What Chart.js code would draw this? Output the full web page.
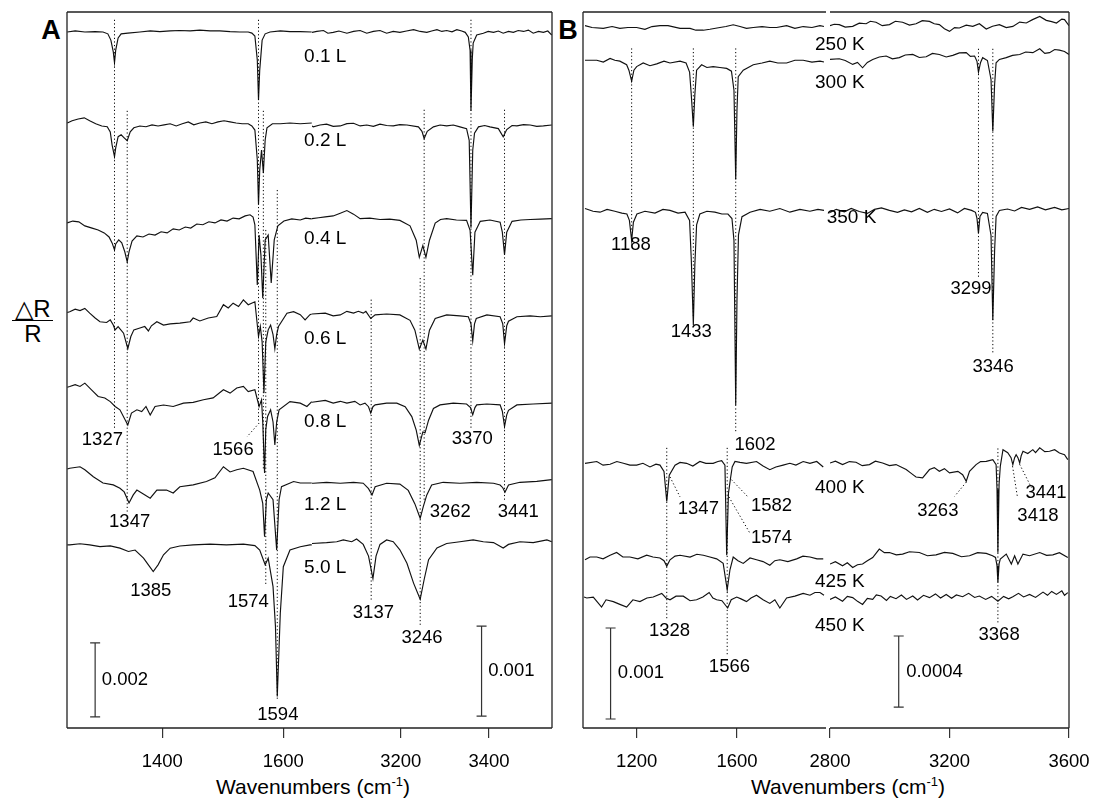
<!DOCTYPE html>
<html lang="en">
<head>
<meta charset="UTF-8">
<title>Reflection-absorption spectra</title>
<script src="https://cdn.jsdelivr.net/npm/chart.js@4/dist/chart.umd.min.js"></script>
<style>
  body { margin: 0; width: 1097px; height: 799px; position: relative; overflow: hidden; background: #fff;
         font-family: "Liberation Sans", Arial, sans-serif; color: #000; }
  canvas { position: absolute; }
  .t { position: absolute; white-space: nowrap; transform: translate(-50%, -50%); }
  .panel { font-weight: bold; font-size: 27px; }
  .xtitle { font-size: 21px; line-height: 24px; }
  .xtitle sup { font-size: 13px; line-height: 0; }
  .ylab { font-size: 24px; }
  .frac { position: absolute; left: 12px; top: 320px; width: 41px; border-top: 1.5px solid #000; }
</style>
</head>
<body>
<div class="t panel" style="left:51px;top:30px">A</div>
<div class="t panel" style="left:568px;top:30px">B</div>
<div class="t ylab" style="left:33px;top:309px">△R</div>
<div class="frac"></div>
<div class="t ylab" style="left:33px;top:334px">R</div>
<div class="t xtitle" style="left:313px;top:787px">Wavenumbers (cm<sup>-1</sup>)</div>
<div class="t xtitle" style="left:848px;top:787px">Wavenumbers (cm<sup>-1</sup>)</div>

<script>
// y values are ΔR/R in units of 1e-4; each spectrum is [wavenumber, change from its baseline]

// ---- panel A: exposure series ----
const exposures = ['0.1 L', '0.2 L', '0.4 L', '0.6 L', '0.8 L', '1.2 L', '5.0 L'];
const offsetsALow = [188.1, 163.0, 134.6, 110.3, 88.7, 65.7, 49.5];
const offsetsAHigh = [77.3, 66.9, 56.4, 45.9, 36.0, 27.2, 20.6];
const ticksALow = [1400, 1600];
const ticksAHigh = [3200, 3400];

const spectraALow = [
  [[1243,0],[1256,0.3],[1272,0],[1289,0.1],[1302,0],[1310,-0.5],[1315,-2.2],[1319,-5.4],[1321,-8.3],[1323,-4.9],[1327,-1.6],[1332,-0.5],[1343,-0.3],[1363,0],[1380,0.3],[1396,0.1],[1413,0.3],[1429,0.4],[1446,0.3],[1462,0.5],[1479,0.3],[1495,0.3],[1512,0.1],[1528,0],[1542,0],[1548,-0.3],[1553,-1.1],[1557,-7.6],[1559,-18.4],[1561,-10.3],[1565,-2.2],[1570,-0.5],[1578,0],[1595,0.3],[1611,0.1],[1628,0.1],[1647,0]],
  [[1243,0.5],[1251,1.1],[1261,1.6],[1271,1.9],[1280,1.1],[1290,0.3],[1300,-0.3],[1309,-0.5],[1314,-1.9],[1317,-5.4],[1321,-8.6],[1323,-6.2],[1327,-3.2],[1332,-2.7],[1337,-3.5],[1342,-4.3],[1347,-1.9],[1353,-0.8],[1363,-0.3],[1373,-0.5],[1383,0],[1393,-0.3],[1403,0],[1413,0.3],[1423,-0.3],[1433,0.3],[1443,0.8],[1452,0],[1462,0.5],[1472,0.8],[1482,0.3],[1492,0.8],[1502,1.1],[1512,0.8],[1522,0.5],[1532,0.3],[1542,0.3],[1548,-0.3],[1553,-1.4],[1557,-9.5],[1559,-21.6],[1561,-12.2],[1564,-6.8],[1567,-13.0],[1570,-4.1],[1573,-0.8],[1582,0.3],[1595,0.3],[1611,0.5],[1628,0.3],[1647,0.5]],
  [[1243,1.9],[1252,2.4],[1262,2.2],[1272,1.1],[1284,0.5],[1294,0],[1304,-0.8],[1312,-1.9],[1317,-3.5],[1321,-5.4],[1323,-3.8],[1328,-2.7],[1333,-3.5],[1338,-5.9],[1342,-8.6],[1345,-5.9],[1350,-3.0],[1358,-1.6],[1368,-1.9],[1378,-1.1],[1388,-1.4],[1398,-0.5],[1408,-0.8],[1418,0.3],[1428,0],[1438,0.8],[1447,0.5],[1457,1.6],[1467,1.4],[1477,2.2],[1487,1.9],[1497,2.7],[1507,2.4],[1517,3.2],[1527,3.0],[1537,3.8],[1545,4.1],[1550,3.5],[1553,1.4],[1557,-14.9],[1560,-1.4],[1563,-6.8],[1566,-18.4],[1570,-2.7],[1575,-1.4],[1580,-14.3],[1585,-2.7],[1591,1.1],[1601,2.4],[1614,3.0],[1628,2.7],[1637,3.2],[1647,3.0]],
  [[1243,2.0],[1247,2.2],[1256,2.9],[1264,2.5],[1272,3.1],[1280,1.8],[1289,0.5],[1297,-0.5],[1308,-0.7],[1314,0],[1319,-1.4],[1322,-2.7],[1327,-1.8],[1336,-3.6],[1343,-7.8],[1348,-4.5],[1353,-2.7],[1363,-2.2],[1371,-1.8],[1377,-3.0],[1382,-1.6],[1391,-0.5],[1402,-1.4],[1413,-1.1],[1429,-0.9],[1446,-0.5],[1451,0.5],[1462,-0.3],[1476,0.5],[1490,0.9],[1501,4.1],[1509,3.2],[1517,4.5],[1526,3.6],[1534,5.4],[1542,4.1],[1553,4.9],[1559,-4.5],[1562,-1.8],[1565,-6.0],[1568,-19.8],[1571,-6.0],[1575,-2.7],[1579,-1.4],[1583,-4.0],[1586,-7.8],[1589,-4.0],[1592,-1.8],[1606,1.8],[1617,2.2],[1628,1.4],[1636,0],[1644,1.4],[1647,1.6]],
  [[1243,3.4],[1247,3.6],[1256,4.1],[1264,3.6],[1272,4.5],[1283,2.7],[1294,0.9],[1305,0.5],[1314,-0.5],[1322,-1.8],[1330,-2.7],[1343,-6.8],[1349,-3.6],[1358,-2.7],[1366,-3.2],[1373,-1.8],[1380,-4.1],[1388,-1.8],[1402,-1.4],[1418,-1.8],[1435,-0.9],[1451,-0.7],[1468,0],[1484,0.5],[1501,2.7],[1512,1.8],[1523,3.2],[1534,3.6],[1542,2.2],[1553,2.7],[1560,-1.8],[1564,0],[1566,-6.0],[1569,-19.8],[1571,-8.0],[1574,-4.5],[1579,-2.7],[1583,-6.0],[1586,-12.2],[1589,-6.0],[1593,-2.7],[1611,-0.5],[1628,-0.9],[1639,-1.8],[1647,-0.5]],
  [[1243,4.3],[1247,4.5],[1264,4.9],[1272,4.1],[1286,2.2],[1302,0.5],[1319,0],[1330,-0.9],[1337,-1.9],[1345,-4.9],[1352,-2.7],[1358,-1.4],[1368,-2.4],[1380,-3.6],[1391,-1.4],[1407,-1.4],[1418,-2.2],[1429,-0.5],[1451,0],[1473,0.9],[1487,1.9],[1501,4.9],[1512,3.5],[1523,4.1],[1534,4.5],[1550,3.6],[1561,-1.4],[1566,-5.0],[1569,-14.0],[1572,-4.0],[1575,-2.2],[1583,-4.0],[1589,-17.6],[1593,-4.0],[1597,-0.5],[1617,0.9],[1628,0.5],[1647,0.5]],
  [[1243,0],[1247,0],[1264,0.3],[1280,0],[1297,-0.5],[1314,-0.3],[1330,-0.9],[1344,-1.8],[1355,-1.4],[1369,-3.6],[1377,-5.4],[1385,-7.2],[1393,-5.4],[1402,-2.7],[1413,-0.9],[1429,-0.3],[1451,0],[1479,0.2],[1506,0],[1534,0.2],[1553,-0.2],[1561,-1.4],[1570,-5.4],[1575,-3.6],[1583,-11.3],[1587,-22.0],[1590,-41.0],[1595,-18.5],[1600,-5.9],[1611,-1.4],[1628,-0.5],[1644,0],[1647,0]]
];

const spectraAHigh = [
  [[2999,0],[3010,0.1],[3025,0.2],[3035,-0.1],[3047,0],[3060,0.15],[3078,-0.1],[3093,0.1],[3108,0.2],[3123,-0.1],[3138,0.1],[3153,0.2],[3168,-0.1],[3183,0.1],[3198,0],[3213,0.15],[3229,0.3],[3244,0.1],[3259,0],[3270,0.15],[3282,0.3],[3293,0.1],[3304,0.2],[3316,0.05],[3327,0.3],[3338,0.15],[3346,0],[3353,-0.5],[3357,-2.0],[3359,-8.7],[3362,-3.0],[3364,-1.2],[3372,-0.3],[3387,-0.1],[3398,0.1],[3410,0],[3421,0.15],[3432,-0.1],[3444,0.1],[3455,0],[3466,0.2],[3478,0.1],[3489,0.25],[3500,-0.1],[3512,0.1],[3523,0],[3533,0.15],[3542,-0.3]],
  [[2999,0],[3002,-0.1],[3017,0.1],[3032,0.2],[3047,-0.05],[3063,0],[3078,0.25],[3093,0.3],[3108,0],[3123,0.1],[3138,-0.05],[3153,0.2],[3168,0.05],[3183,0],[3198,0.15],[3214,0.1],[3240,-0.1],[3248,-0.6],[3253,-1.4],[3260,-0.6],[3274,-0.1],[3289,0.1],[3304,0],[3319,0.1],[3334,-0.1],[3349,-0.3],[3355,-1.6],[3359,-11.3],[3363,-2.7],[3367,-0.8],[3376,-0.1],[3390,0.05],[3402,-0.1],[3421,-0.3],[3432,-1.2],[3440,-0.4],[3452,0.05],[3463,0],[3478,0.15],[3493,0.1],[3508,-0.05],[3523,0],[3542,0.1]],
  [[2999,0.2],[3014,0.3],[3029,0.4],[3047,0.5],[3063,0.8],[3078,1.1],[3093,0.7],[3108,0.2],[3130,0.25],[3153,0.1],[3175,0.15],[3198,0],[3221,-0.6],[3235,-2.2],[3242,-4.1],[3250,-2.8],[3257,-4.1],[3265,-2.2],[3278,-0.3],[3290,0.1],[3304,0.2],[3326,0.05],[3349,0],[3357,-1.1],[3363,-6.1],[3368,-1.3],[3380,-0.1],[3402,0.05],[3425,-0.2],[3430,-1.3],[3435,-3.8],[3440,-1.3],[3452,-0.1],[3472,0.05],[3493,0.1],[3516,0.15],[3542,0.2]],
  [[2999,0.1],[3029,0.2],[3047,-0.1],[3063,0],[3078,0.4],[3093,0.2],[3104,0.4],[3115,0.2],[3121,0.4],[3132,-0.4],[3142,0],[3168,0.1],[3198,0],[3221,-0.6],[3232,-1.7],[3242,-3.8],[3250,-2.8],[3257,-3.8],[3265,-1.7],[3278,-0.4],[3304,0],[3334,-0.1],[3353,-0.2],[3359,-1.0],[3363,-2.9],[3367,-1.0],[3371,-0.4],[3395,0],[3425,-0.2],[3431,-1.0],[3435,-3.2],[3440,-1.2],[3444,-0.7],[3463,-0.2],[3493,-0.1],[3516,-0.2],[3542,-0.1]],
  [[2999,0.2],[3029,0.4],[3047,0.1],[3063,0.3],[3078,0.1],[3096,0.3],[3108,-0.1],[3119,0.1],[3127,-0.3],[3132,-1.0],[3137,-0.3],[3142,-0.1],[3168,0.1],[3191,0.1],[3210,-0.3],[3225,-1.4],[3235,-2.9],[3242,-4.6],[3250,-3.1],[3255,-3.2],[3263,-1.8],[3274,-0.5],[3289,-0.1],[3319,0.1],[3349,0],[3358,-0.4],[3363,-1.2],[3368,-0.4],[3372,-0.1],[3395,0],[3425,-0.1],[3430,-0.8],[3435,-2.5],[3440,-1.2],[3444,-0.7],[3463,-0.1],[3500,0],[3542,0.1]],
  [[2999,0],[3002,0],[3032,0.1],[3063,0],[3093,0.1],[3115,0],[3127,-0.6],[3135,-1.3],[3142,-0.4],[3168,0],[3198,-0.1],[3217,-0.8],[3232,-2.3],[3244,-3.9],[3251,-2.6],[3259,-1.3],[3270,-0.2],[3296,0.1],[3334,0],[3372,0.1],[3410,0],[3425,-0.2],[3431,-0.5],[3436,-1.0],[3441,-0.5],[3444,-0.2],[3470,0.1],[3508,0.2],[3542,0.4]],
  [[2999,-0.1],[3032,0],[3055,0.1],[3070,0.3],[3089,0.1],[3100,0.4],[3115,-0.2],[3127,-1.5],[3137,-4.0],[3144,-1.5],[3153,-0.2],[3168,0.3],[3183,0.1],[3198,-0.8],[3214,-2.3],[3229,-4.5],[3244,-6.3],[3253,-4.1],[3263,-1.9],[3282,-0.6],[3304,-0.1],[3334,0.1],[3364,0.3],[3387,0.1],[3410,0],[3432,-0.6],[3444,-0.2],[3470,0.1],[3500,0],[3531,0.3],[3542,0.1]]
];

// ---- panel B: annealing temperatures ----
const temps = ['250 K', '300 K', '350 K', '400 K', '425 K', '450 K'];
const offsetsBLow = [77.1, 73.1, 57.0, 29.1, 18.8, 14.4];
const offsetsBHigh = [39.6, 37.7, 29.2, 15.0, 9.7, 7.3];
const ticksBLow = [1200, 1600];
const ticksBHigh = [2800, 3200, 3600];

const spectraBLow = [
  [[994,0.2],[1022,0],[1067,-0.1],[1102,0.1],[1133,-0.1],[1165,0],[1200,0],[1233,-0.2],[1261,0.1],[1293,0.2],[1325,0.2],[1373,-0.1],[1413,-0.1],[1436,-0.3],[1466,-0.3],[1492,-0.2],[1532,0],[1556,0.1],[1585,0.3],[1612,0.1],[1638,-0.1],[1665,0],[1700,0.1],[1731,0],[1758,0],[1798,0.2],[1831,-0.1],[1864,0.1],[1899,0],[1931,0.2],[1947,0.1]],
  [[994,0.4],[1041,0.4],[1067,0.2],[1094,0.6],[1113,0.4],[1133,0.3],[1160,-0.1],[1169,-0.7],[1180,-1.9],[1189,-0.7],[1200,-0.3],[1226,0.1],[1253,-0.2],[1280,0],[1309,0.3],[1333,0.1],[1373,0.3],[1397,0.1],[1411,-0.9],[1417,-3.1],[1426,-6.9],[1432,-3.4],[1439,-0.7],[1459,-0.1],[1480,-0.4],[1505,-0.3],[1532,-0.4],[1559,-0.5],[1578,-0.8],[1588,-2.9],[1595,-12.7],[1600,-5.1],[1605,-1.4],[1625,-0.7],[1665,-0.1],[1700,0.1],[1731,0.3],[1763,0.1],[1798,0.1],[1831,0.4],[1864,0.4],[1899,0.2],[1931,0.3],[1947,0.2]],
  [[994,0.2],[1026,-0.1],[1054,-0.2],[1082,0.1],[1113,-0.1],[1141,-0.3],[1161,-0.4],[1171,-1.1],[1180,-3.3],[1187,-1.3],[1201,-0.4],[1233,-0.1],[1273,-0.3],[1305,0.1],[1333,0],[1365,-0.3],[1393,-0.2],[1411,-1.1],[1418,-5.5],[1426,-12.6],[1432,-6.0],[1439,-1.6],[1452,-0.4],[1480,-0.1],[1512,-0.2],[1540,-0.4],[1564,-0.4],[1580,-0.9],[1588,-3.3],[1595,-21.4],[1600,-9.9],[1606,-2.7],[1620,-0.7],[1652,-0.2],[1692,0.1],[1731,-0.1],[1771,0.2],[1811,-0.2],[1851,0.1],[1891,-0.1],[1923,0.1],[1947,0]],
  [[994,0.1],[1041,0.3],[1066,-0.1],[1094,0],[1121,0.3],[1147,0.1],[1173,-0.1],[1200,-0.1],[1225,0.1],[1253,-0.3],[1277,0],[1293,-0.1],[1309,-0.8],[1320,-4.1],[1330,-1.2],[1353,-0.1],[1373,0.2],[1399,0.1],[1424,-0.2],[1452,0.3],[1476,0.1],[1505,0.1],[1524,0.3],[1539,0.4],[1552,-0.1],[1559,-10.0],[1566,-3.2],[1574,-1.6],[1581,-0.3],[1592,0.3],[1612,0.2],[1638,0.1],[1678,0.3],[1704,-0.2],[1731,-0.6],[1755,-0.3],[1784,-0.1],[1811,0.1],[1835,-0.1],[1864,0.3],[1891,0.1],[1918,0.3],[1944,-0.3]],
  [[994,-0.2],[1014,0.1],[1041,0.1],[1066,-0.1],[1094,0.3],[1120,0.6],[1145,0.1],[1173,0.1],[1205,-0.1],[1240,0.3],[1265,0.1],[1293,0],[1309,-0.3],[1320,-0.9],[1333,-0.2],[1353,0.2],[1373,0.3],[1413,0.1],[1440,0.4],[1466,0.3],[1492,0.1],[1519,-0.1],[1545,-0.6],[1561,-3.5],[1572,-1.3],[1585,0.1],[1604,-0.3],[1625,-0.6],[1652,0],[1678,-0.2],[1704,-0.4],[1731,-0.8],[1751,-0.3],[1771,-0.2],[1803,-0.4],[1838,-0.1],[1863,0.2],[1891,0.1],[1919,-0.1],[1944,-0.1]],
  [[990,0.1],[1001,0],[1027,0.1],[1042,-0.4],[1060,-1.0],[1078,-0.2],[1107,-0.4],[1133,-0.7],[1160,-1.0],[1185,-0.2],[1213,-0.4],[1241,0],[1266,0.1],[1300,0.5],[1317,0],[1333,-0.2],[1357,0.2],[1386,0.2],[1413,-0.3],[1439,-0.2],[1464,0.1],[1489,0.6],[1504,0],[1519,-0.2],[1540,-0.3],[1563,-1.1],[1577,-0.2],[1599,0.1],[1616,-0.1],[1638,-0.4],[1656,0],[1678,0.3],[1704,-0.2],[1731,-0.6],[1751,-0.2],[1771,-1.1],[1798,0],[1831,0.2],[1864,0.5],[1891,0.3],[1911,0.6],[1931,0.6],[1947,0.3]]
];

const spectraBHigh = [
  [[2800,0],[2814,0.08],[2831,0.06],[2851,-0.08],[2876,-0.04],[2898,0.14],[2921,0.11],[2935,0.25],[2954,0.19],[2975,0],[2999,0.06],[3019,0.25],[3043,0.19],[3066,0.03],[3088,0.11],[3109,0.28],[3133,0.24],[3149,0.11],[3166,0.06],[3183,-0.17],[3200,-0.32],[3217,-0.11],[3233,-0.13],[3256,0.03],[3278,-0.04],[3300,0.11],[3323,-0.19],[3344,-0.03],[3367,0.06],[3390,-0.11],[3412,-0.04],[3435,0.2],[3457,0.15],[3478,0.34],[3502,0.52],[3524,0.3],[3542,0.23],[3558,0.15],[3576,0.37],[3585,0.34],[3600,0]],
  [[2800,0],[2831,0.04],[2851,-0.06],[2876,-0.28],[2892,-0.17],[2909,-0.47],[2925,-0.17],[2943,0],[2965,0.14],[2988,0.19],[3009,0.03],[3032,0.1],[3052,0.25],[3077,0.28],[3099,0.11],[3122,0.15],[3143,0.34],[3166,0.28],[3189,0.14],[3211,0.23],[3233,0.37],[3256,0.38],[3270,0.17],[3284,0.19],[3292,-0.11],[3297,-0.72],[3304,-0.17],[3311,0.1],[3327,-0.06],[3339,-1.13],[3345,-4.04],[3351,-1.41],[3356,-0.19],[3367,0],[3390,0.1],[3411,0.23],[3435,0.28],[3455,0.42],[3479,0.38],[3502,0.6],[3519,0.34],[3535,0.38],[3552,0.56],[3568,0.52],[3585,0.45],[3600,0.28]],
  [[2800,-0.11],[2821,0.06],[2848,-0.08],[2871,0.11],[2898,-0.06],[2925,-0.17],[2949,0.06],[2972,0.14],[2999,0],[3026,-0.11],[3049,0.03],[3073,-0.08],[3099,0.11],[3126,-0.11],[3149,0.06],[3173,-0.06],[3200,0.08],[3227,-0.14],[3250,0.11],[3274,0],[3287,-0.11],[3292,-0.45],[3297,-1.29],[3302,-0.34],[3311,-0.11],[3327,-0.17],[3339,-1.41],[3345,-6.19],[3351,-2.25],[3356,-0.34],[3367,0],[3394,0.08],[3418,-0.03],[3441,0.17],[3468,0.06],[3495,0.2],[3521,0.03],[3552,0.17],[3576,0.03],[3600,0.11]],
  [[2800,-0.02],[2818,0.08],[2842,-0.11],[2865,0.06],[2887,0.02],[2908,-0.17],[2932,-0.11],[2952,0.08],[2976,-0.02],[2999,-0.17],[3021,-0.11],[3055,-0.39],[3073,-0.62],[3088,-0.81],[3110,-0.86],[3133,-0.39],[3149,-0.28],[3166,-0.49],[3183,-0.34],[3200,-0.58],[3228,-0.49],[3244,-0.68],[3256,-1.05],[3267,-0.49],[3289,-0.11],[3304,0.06],[3323,0.07],[3345,0.17],[3356,-0.11],[3359,-1.5],[3362,-5.08],[3366,-1.2],[3370,-0.21],[3379,0.73],[3395,0.56],[3406,0.28],[3412,-0.11],[3418,0.28],[3423,0.45],[3429,0.28],[3435,-0.02],[3440,0.39],[3446,0.64],[3462,0.51],[3479,0.73],[3488,0.56],[3502,0.83],[3519,0.62],[3535,0.64],[3552,0.73],[3568,0.54],[3585,0.45],[3596,0.17]],
  [[2800,-0.41],[2818,-0.28],[2842,-0.51],[2858,-0.34],[2876,-0.6],[2892,-0.45],[2909,-0.41],[2925,-0.23],[2943,-0.04],[2965,0.43],[2982,0.23],[2999,0.24],[3022,0.11],[3043,0.15],[3066,0.28],[3099,0.24],[3126,0.06],[3155,0.11],[3183,0.25],[3211,0.19],[3240,0],[3267,0.06],[3294,0.23],[3323,0.19],[3344,0.06],[3354,-0.04],[3359,-0.5],[3362,-1.45],[3366,-0.4],[3370,-0.13],[3390,0.15],[3407,-0.41],[3418,0.06],[3429,-0.41],[3446,0.15],[3468,0.06],[3502,0.24],[3525,0.08],[3546,0.11],[3568,0.23],[3596,-0.04]],
  [[2800,0],[2818,0.14],[2842,-0.1],[2858,0.17],[2876,0.1],[2892,-0.11],[2909,-0.28],[2925,0.06],[2943,0],[2955,0.25],[2971,0.19],[2989,-0.06],[3002,0.17],[3021,0.04],[3039,0.25],[3056,0],[3077,0.19],[3093,-0.03],[3113,0.23],[3133,0.1],[3153,0.31],[3170,0.08],[3189,0.28],[3207,0.06],[3223,0.25],[3244,0.15],[3264,0.34],[3284,0.11],[3300,0.19],[3321,0],[3341,0.17],[3362,-0.1],[3381,0.17],[3398,0.03],[3412,0.15],[3431,0.34],[3448,0.14],[3468,0.28],[3488,0.11],[3513,0.41],[3528,0.23],[3542,0.45],[3558,0.28],[3576,0.48],[3585,0.23],[3596,0.38]]
];

// ---- annotations (wavenumber, ΔR/R) ----
const guidesALow = [[1321,191.4,80.5],[1342,166.8,58.4],[1559,191.4,82.4],[1567,166.8,69.7],[1571,134.6,38.7],[1590,145.4,7.6],[1560,82.4,1540,78.7]];
const guidesAHigh = [[3133,47.6,14.2],[3244,50.0,11.4],[3253,68.7,25.3],[3359,78.7,33.1],[3435,68.7,25.3]];
const guidesBLow = [[1180,74.8,54.6],[1426,74.8,45.2],[1595,74.8,32.6],[1320,30.9,12.0],[1561,30.9,8.1],[1333,27.7,1373,25.5],[1578,27.4,1644,25.5],[1568,25.5,1652,21.5]];
const guidesBHigh = [[3297,38.3,25.4],[3345,38.3,21.2],[3362,15.8,6.0],[3256,13.9,3217,13.1],[3411,14.8,3428,13.0],[3435,14.9,3474,13.6]];

const peaksALow = [['1327',1301,77.8],['1566',1517,75.1],['1347',1346,55.8],['1385',1381,37.1],['1574',1542,34.1],['1594',1591,3.5]];
const peaksAHigh = [['3370',3362,32.1],['3262',3312,24.0],['3441',3466,24.0],['3137',3138,12.8],['3246',3248,10.0]];
const peaksBLow = [['1188',1177,53.2],['1433',1418,43.6],['1602',1672,31.2],['1347',1446,24.2],['1582',1738,24.5],['1574',1738,21.0],['1328',1331,10.8],['1566',1570,6.8]];
const peaksBHigh = [['3299',3272,24.8],['3346',3346,20.4],['3263',3161,12.3],['3441',3523,13.3],['3418',3496,12.0],['3368',3366,5.3]];

const exposureLabelAt = [[3029,74.6],[3029,65.3],[3029,54.4],[3029,43.3],[3029,34.0],[3029,24.8],[3029,17.8]];
const tempLabelAt = [[2833,38.5],[2833,36.4],[2872,28.8],[2833,13.6],[2833,8.3],[2833,5.8]];

// scale bars: [wavenumber, from, to, text, text wavenumber, text y]
const barALow = [1289, 3.0, 23.0, '0.002', 1300, 13.0];
const barAHigh = [3383, 1.33, 11.33, '0.001', 3398, 6.3];
const barBLow = [1096, 1.1, 11.1, '0.001', 1125, 6.2];
const barBHigh = [3030, 1.24, 5.24, '0.0004', 3055, 3.2];

const FONT = '"Liberation Sans", Arial, sans-serif';
const PLOT_TOP = 12, PLOT_H = 716;

const overlay = {
  id: 'overlay',
  afterDatasetsDraw(chart, args, o) {
    const { ctx, chartArea: a } = chart;
    const x = chart.scales.x, y = chart.scales.y;
    const px = v => x.getPixelForValue(v), py = v => y.getPixelForValue(v);
    ctx.save();
    // frame
    ctx.strokeStyle = '#222';
    ctx.lineWidth = 1.3;
    ctx.beginPath();
    ctx.moveTo(a.left, a.top); ctx.lineTo(a.right, a.top);
    ctx.moveTo(a.left, a.bottom); ctx.lineTo(a.right, a.bottom);
    if (o.sides.includes('l')) { ctx.moveTo(a.left, a.top); ctx.lineTo(a.left, a.bottom); }
    if (o.sides.includes('r')) { ctx.moveTo(a.right, a.top); ctx.lineTo(a.right, a.bottom); }
    ctx.stroke();
    // dotted guide lines
    ctx.strokeStyle = '#000';
    ctx.lineWidth = 1;
    ctx.setLineDash([1.2, 2.4]);
    o.guides.forEach(g => {
      ctx.beginPath();
      if (g.length === 3) { ctx.moveTo(px(g[0]), py(g[1])); ctx.lineTo(px(g[0]), py(g[2])); }
      else { ctx.moveTo(px(g[0]), py(g[1])); ctx.lineTo(px(g[2]), py(g[3])); }
      ctx.stroke();
    });
    ctx.setLineDash([]);
    // scale bar
    const b = o.bar, bx = px(b[0]);
    ctx.strokeStyle = '#333';
    ctx.lineWidth = 1.2;
    ctx.beginPath();
    ctx.moveTo(bx, py(b[1])); ctx.lineTo(bx, py(b[2]));
    ctx.moveTo(bx - 5, py(b[1])); ctx.lineTo(bx + 5, py(b[1]));
    ctx.moveTo(bx - 5, py(b[2])); ctx.lineTo(bx + 5, py(b[2]));
    ctx.stroke();
    // text
    ctx.fillStyle = '#000';
    ctx.font = '18.5px ' + FONT;
    ctx.textBaseline = 'middle';
    ctx.textAlign = 'left';
    ctx.fillText(b[3], px(b[4]), py(b[5]));
    ctx.textAlign = 'center';
    o.peaks.forEach(p => ctx.fillText(p[0], px(p[1]), py(p[2])));
    if (o.names) {
      ctx.font = '19px ' + FONT;
      o.names.forEach((n, i) => ctx.fillText(n, px(o.namePos[i][0]), py(o.namePos[i][1])));
    }
    ctx.restore();
  }
};

function makeChart(c) {
  const padL = 40, padR = 40, padT = 10;
  const W = c.width + padL + padR, H = PLOT_H + padT + 75;
  const cv = document.createElement('canvas');
  cv.width = W; cv.height = H;
  cv.style.width = W + 'px'; cv.style.height = H + 'px';
  cv.style.left = (c.left - padL) + 'px';
  cv.style.top = (PLOT_TOP - padT) + 'px';
  document.body.appendChild(cv);

  const chart = new Chart(cv, {
    type: 'line',
    data: {
      datasets: c.spectra.map((pts, i) => ({
        label: c.series[i],
        data: pts.map(p => ({ x: p[0], y: c.offsets[i] + p[1] })),
        borderColor: '#111',
        borderWidth: 1.15,
        pointRadius: 0,
        tension: 0,
        fill: false
      }))
    },
    options: {
      responsive: false,
      animation: false,
      devicePixelRatio: 1,
      events: [],
      layout: { padding: { left: padL, right: padR, top: padT, bottom: 20 } },
      plugins: {
        legend: { display: false },
        tooltip: { enabled: false },
        overlay: c.overlay
      },
      scales: {
        x: {
          type: 'linear',
          min: c.xMin, max: c.xMax,
          afterBuildTicks: s => { s.ticks = c.ticks.map(v => ({ value: v })); },
          ticks: { autoSkip: false, maxRotation: 0, padding: 13, color: '#000',
                   font: { family: FONT, size: 18.5 }, callback: v => String(v) },
          grid: { display: true, drawOnChartArea: false, drawTicks: true, tickLength: 10,
                  color: '#333', lineWidth: 1.2 },
          border: { display: false }
        },
        y: { type: 'linear', display: false, min: c.yMin, max: c.yMax }
      }
    },
    plugins: [overlay]
  });
  const diff = (chart.chartArea.bottom - chart.chartArea.top) - PLOT_H;
  if (Math.abs(diff) > 0.01) {
    chart.options.layout.padding.bottom += diff;
    chart.update();
  }
  return chart;
}

makeChart({ left: 67, width: 245, xMin: 1242.5, xMax: 1647.4, yMin: 0, yMax: 193.5,
  ticks: ticksALow, series: exposures, offsets: offsetsALow, spectra: spectraALow,
  overlay: { sides: 'l', guides: guidesALow, peaks: peaksALow, bar: barALow } });
makeChart({ left: 312, width: 240, xMin: 2999, xMax: 3542.5, yMin: 0, yMax: 79.56,
  ticks: ticksAHigh, series: exposures, offsets: offsetsAHigh, spectra: spectraAHigh,
  overlay: { sides: 'r', guides: guidesAHigh, peaks: peaksAHigh, bar: barAHigh,
             names: exposures, namePos: exposureLabelAt } });
makeChart({ left: 583, width: 243, xMin: 986, xMax: 1955, yMin: 0.11, yMax: 78.8,
  ticks: ticksBLow, series: temps, offsets: offsetsBLow, spectra: spectraBLow,
  overlay: { sides: 'l', guides: guidesBLow, peaks: peaksBLow, bar: barBLow } });
makeChart({ left: 830, width: 239, xMin: 2800, xMax: 3600, yMin: 0.06, yMax: 40.37,
  ticks: ticksBHigh, series: temps, offsets: offsetsBHigh, spectra: spectraBHigh,
  overlay: { sides: 'r', guides: guidesBHigh, peaks: peaksBHigh, bar: barBHigh,
             names: temps, namePos: tempLabelAt } });
</script>
</body>
</html>
